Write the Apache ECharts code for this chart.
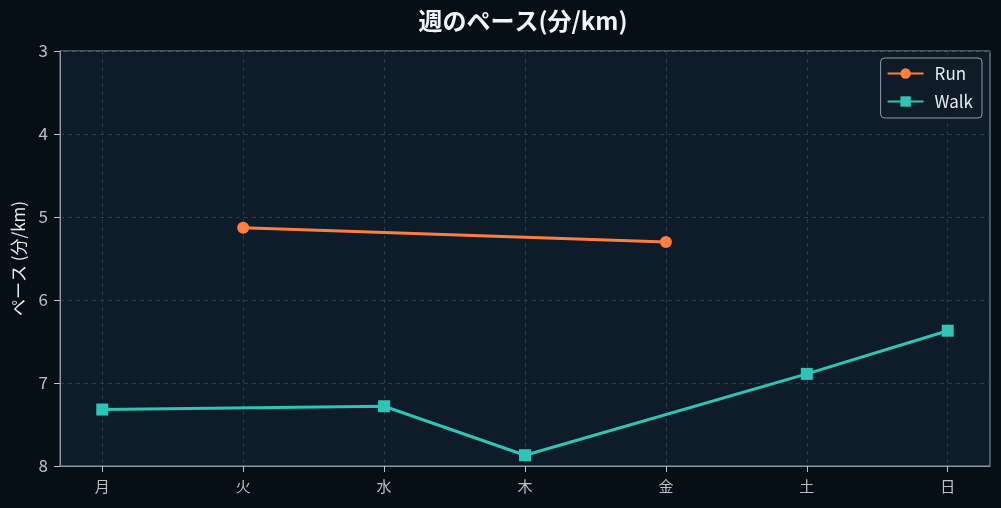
<!DOCTYPE html>
<html><head><meta charset="utf-8">
<script src="https://cdn.jsdelivr.net/npm/echarts@6/dist/echarts.min.js"></script>
<style>html,body{margin:0;padding:0;background:#060e16;}#c{width:1001px;height:508px;}</style>
</head><body><div id="c"></div>
<script>
const days = ['月','火','水','木','金','土','日'];
const run = [null, 5.13, null, null, 5.30, null, null];
const walk = [7.32, null, 7.28, 7.87, null, 6.89, 6.37];
const yTicks = [3, 4, 5, 6, 7, 8];

const toPairs = arr => arr.map((v, i) => [i, v]).filter(p => p[1] != null);
const idx = days.map((d, i) => i);
const font = '"Noto Sans CJK JP", "Noto Sans", sans-serif';

const chart = echarts.init(document.getElementById('c'));
chart.setOption({
  backgroundColor: '#060e16',
  animation: false,
  title: {
    text: '週のペース(分/km)', left: 518, textAlign: 'center', top: 4,
    padding: [5, 5, 5, 5],
    textStyle: { color: '#f2f5f8', fontSize: 24, fontWeight: 'bold', fontFamily: font }
  },
  legend: {
    right: 19, top: 58, orient: 'vertical', itemGap: 11, itemWidth: 36, itemHeight: 13,
    padding: [7, 9, 8, 6],
    backgroundColor: '#0f1c28', borderColor: '#8e9ca8', borderWidth: 1, borderRadius: 4,
    textStyle: { color: '#e6ecf1', fontSize: 17, fontFamily: font, padding: [0, 0, 0, 6] },
    data: ['Run', 'Walk']
  },
  grid: {
    left: 60, right: 11, top: 51, bottom: 42, show: true, outerBoundsMode: 'none', containLabel: false,
    backgroundColor: '#0e1c29', borderColor: '#8a98a6', borderWidth: 1
  },
  xAxis: {
    type: 'value', min: -0.3, max: 6.3,
    axisLine: { show: true, onZero: false, lineStyle: { color: '#8a98a6' } },
    axisTick: { show: true, customValues: idx, length: 6, lineStyle: { color: '#b8c4ce' } },
    axisLabel: {
      customValues: idx, color: '#b4c2ce', fontSize: 15, fontFamily: font, margin: 13,
      formatter: v => days[Math.round(v)] || ''
    },
    splitLine: { show: true, lineStyle: { color: '#2b3a48', type: [4, 4] } }
  },
  yAxis: {
    type: 'value', inverse: true, min: yTicks[0], max: yTicks[yTicks.length - 1], interval: 1,
    name: 'ペース (分/km)', nameLocation: 'middle', nameGap: 33, nameRotate: 90,
    nameTextStyle: { color: '#e6ecf1', fontSize: 17, fontFamily: font },
    axisLine: { show: true, onZero: false, lineStyle: { color: '#8a98a6' } },
    axisTick: { show: true, length: 6, lineStyle: { color: '#b8c4ce' } },
    axisLabel: { color: '#b4c2ce', fontSize: 17, fontFamily: font, margin: 12 },
    splitLine: { show: true, lineStyle: { color: '#2b3a48', type: [4, 4] } }
  },
  series: [
    {
      name: 'Run', type: 'line', data: toPairs(run), symbol: 'circle', symbolSize: 12,
      lineStyle: { color: '#ff7f3f', width: 3 }, itemStyle: { color: '#ff7f3f' }
    },
    {
      name: 'Walk', type: 'line', data: toPairs(walk), symbol: 'rect', symbolSize: 12,
      lineStyle: { color: '#2ec4b6', width: 3 }, itemStyle: { color: '#2ec4b6' }
    }
  ]
});
</script></body></html>
